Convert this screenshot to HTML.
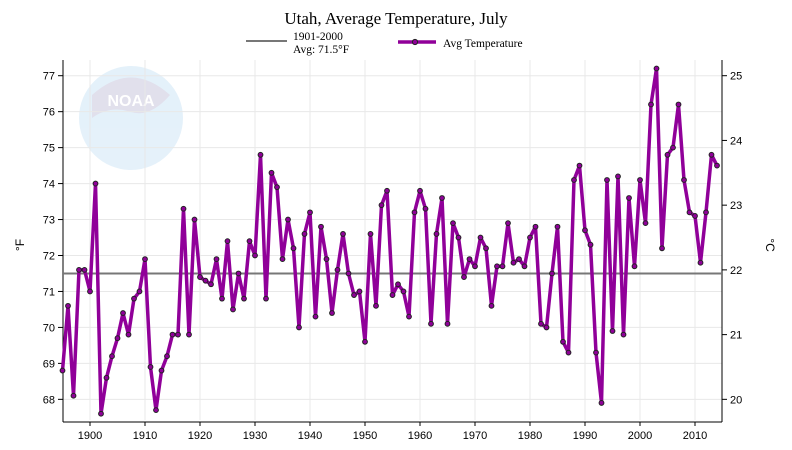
<!DOCTYPE html>
<html><head><meta charset="utf-8"><style>
body{margin:0;background:#fff;}
svg{display:block;}
</style></head><body>
<svg id="chart" width="792" height="450" xmlns="http://www.w3.org/2000/svg">
<g opacity="0.55">
  <circle cx="131" cy="118" r="52" fill="#cfe6f6"/>
  <path d="M92,95 Q131,60 170,95 Q150,118 131,112 Q110,105 92,118 Z" fill="#c9c7de"/>
  <text x="131" y="106" text-anchor="middle" font-family="Liberation Sans, sans-serif" font-size="16" font-weight="bold" fill="#fff">NOAA</text>
</g>
<g id="grid"></g>
<g id="axes"></g>
<g id="series"></g>
<text x="396" y="24" text-anchor="middle" font-family="Liberation Serif, serif" font-size="17" fill="#000">Utah, Average Temperature, July</text>
<g>
  <line x1="246" y1="41" x2="287" y2="41" stroke="#777" stroke-width="2"/>
  <text x="293" y="40" font-family="Liberation Serif, serif" font-size="11.5">1901-2000</text>
  <text x="293" y="53" font-family="Liberation Serif, serif" font-size="11.5">Avg: 71.5°F</text>
</g>
<g>
  <line x1="398" y1="42" x2="436" y2="42" stroke="#900099" stroke-width="3.5"/>
  <circle cx="415" cy="42" r="2.6" fill="#900099" stroke="#222" stroke-width="1"/>
  <text x="443" y="47" font-family="Liberation Serif, serif" font-size="11.5">Avg Temperature</text>
</g>
<text transform="translate(24,245) rotate(-90)" text-anchor="middle" font-family="Liberation Sans, sans-serif" font-size="12">°F</text>
<text transform="translate(766,245) rotate(90)" text-anchor="middle" font-family="Liberation Sans, sans-serif" font-size="12">°C</text>
</svg>
<script>
const years = [];
for (let y = 1895; y <= 2014; y++) years.push(y);
const temps = [68.8,70.6,68.1,71.6,71.6,71.0,74.0,67.6,68.6,69.2,69.7,70.4,69.8,70.8,71.0,71.9,68.9,67.7,68.8,69.2,69.8,69.8,73.3,69.8,73.0,71.4,71.3,71.2,71.9,70.8,72.4,70.5,71.5,70.8,72.4,72.0,74.8,70.8,74.3,73.9,71.9,73.0,72.2,70.0,72.6,73.2,70.3,72.8,71.9,70.4,71.6,72.6,71.5,70.9,71.0,69.6,72.6,70.6,73.4,73.8,70.9,71.2,71.0,70.3,73.2,73.8,73.3,70.1,72.6,73.6,70.1,72.9,72.5,71.4,71.9,71.7,72.5,72.2,70.6,71.7,71.7,72.9,71.8,71.9,71.7,72.5,72.8,70.1,70.0,71.5,72.8,69.6,69.3,74.1,74.5,72.7,72.3,69.3,67.9,74.1,69.9,74.2,69.8,73.6,71.7,74.1,72.9,76.2,77.2,72.2,74.8,75.0,76.2,74.1,73.2,73.1,71.8,73.2,74.8,74.5];
const baseline = 71.5;
const fTicks = [68,69,70,71,72,73,74,75,76,77];
const cTicks = [20,21,22,23,24,25];
const xTicks = [1900,1910,1920,1930,1940,1950,1960,1970,1980,1990,2000,2010];

const NS = 'http://www.w3.org/2000/svg';
const L = 63, R = 722, T = 60, B = 420;
const xs = yr => 90 + (yr - 1900) * 5.5;
const ys = f => 75.7 + (77 - f) * 35.96;
function mk(tag, attrs, parent) {
  const e = document.createElementNS(NS, tag);
  for (const k in attrs) e.setAttribute(k, attrs[k]);
  parent.appendChild(e);
  return e;
}
const grid = document.getElementById('grid');
const axes = document.getElementById('axes');
const series = document.getElementById('series');

fTicks.forEach(f => {
  const gl = mk('line', {x1: L, x2: R, y1: ys(f), y2: ys(f), stroke: '#e8e8e8', 'stroke-width': 1}, grid);
  
  
  const tk = mk('line', {x1: L - 5, x2: L, y1: ys(f), y2: ys(f), stroke: '#000'}, axes);
  
  
  const t = mk('text', {x: L - 8, y: ys(f) + 4, 'text-anchor': 'end', 'font-family': 'Liberation Sans, sans-serif', 'font-size': 11}, axes);
  t.textContent = f;
  
  
});
cTicks.forEach(c => {
  const y = ys(c * 9 / 5 + 32);
  const tk = mk('line', {x1: R, x2: R + 5, y1: y, y2: y, stroke: '#000'}, axes);
  
  
  const t = mk('text', {x: R + 8, y: y + 4, 'font-family': 'Liberation Sans, sans-serif', 'font-size': 11}, axes);
  t.textContent = c;
  
  
});
xTicks.forEach(yr => {
  const x = xs(yr);
  const gl = mk('line', {x1: x, x2: x, y1: T, y2: B, stroke: '#e8e8e8'}, grid);
  
  
  const tk = mk('line', {x1: x, x2: x, y1: B + 2, y2: B + 6, stroke: '#000'}, axes);
  
  
  const t = mk('text', {x: x, y: B + 19, 'text-anchor': 'middle', 'font-family': 'Liberation Sans, sans-serif', 'font-size': 11}, axes);
  t.textContent = yr;
  
  
});
const la = mk('line', {x1: L, x2: L, y1: T, y2: B + 2, stroke: '#000'}, axes);


const ra = mk('line', {x1: R, x2: R, y1: T, y2: B + 2, stroke: '#000'}, axes);


const xa = mk('line', {x1: L, x2: R, y1: B + 2, y2: B + 2, stroke: '#000'}, axes);



const bl = mk('line', {x1: L, x2: R, y1: ys(baseline), y2: ys(baseline), stroke: '#777', 'stroke-width': 2}, series);



const pts = years.map((yr, i) => xs(yr).toFixed(1) + ',' + ys(temps[i]).toFixed(1)).join(' ');
const line = mk('polyline', {points: pts, fill: 'none', stroke: '#900099', 'stroke-width': 3.5, 'stroke-linejoin': 'round'}, series);


years.forEach((yr, i) => {
  const c = mk('circle', {cx: xs(yr), cy: ys(temps[i]), r: 2.4, fill: '#900099', stroke: '#222', 'stroke-width': 1}, series);
  
  
});
</script>
</body></html>
